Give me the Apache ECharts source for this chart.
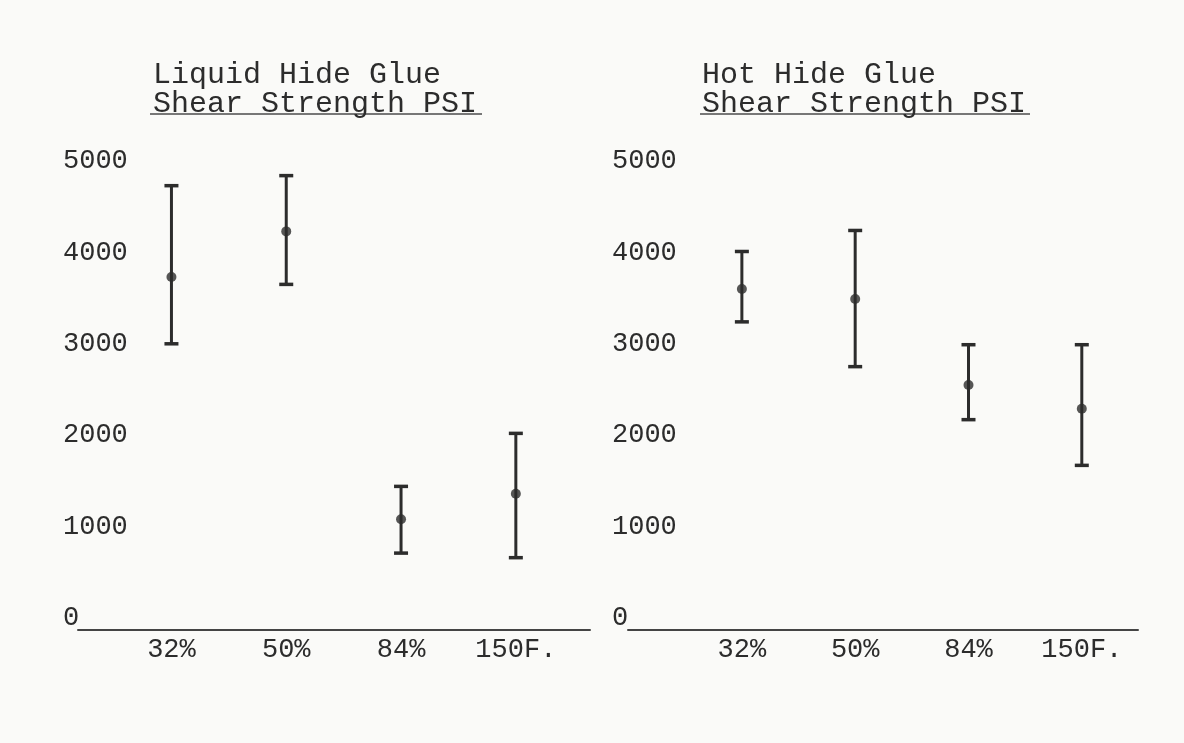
<!DOCTYPE html>
<html>
<head>
<meta charset="utf-8">
<script src="https://cdn.jsdelivr.net/npm/echarts@6/dist/echarts.min.js"></script>
<style>
  html, body { margin: 0; padding: 0; background: #fafaf8; }
  #chart { width: 1184px; height: 743px; }
</style>
</head>
<body>
<div id="chart"></div>
<script>
// ---- data ----
const categories = ['32%', '50%', '84%', '150F.'];
const yTickValues = [0, 1000, 2000, 3000, 4000, 5000];

const liquidTitle = 'Liquid Hide Glue';
const hotTitle = 'Hot Hide Glue';
const subTitle = 'Shear Strength PSI';

const liquidMean = [3730, 4230, 1080, 1360];
const liquidLow  = [3000, 3650, 710, 660];
const liquidHigh = [4730, 4840, 1440, 2020];

const hotMean = [3600, 3490, 2550, 2290];
const hotLow  = [3240, 2750, 2170, 1670];
const hotHigh = [4010, 4240, 2990, 2990];

// ---- styling ----
const FONT = "'Courier New', 'Liberation Mono', monospace";
const INK = '#2c2c2c';
const TITLE_SIZE = 30;
const TICK_SIZE = 27;

const chart = echarts.init(document.getElementById('chart'));

function errorBarRender(params, api) {
  const x = api.value(0);
  const lo = api.value(1);
  const hi = api.value(2);
  const pLo = api.coord([x, lo]);
  const pHi = api.coord([x, hi]);
  const hw = 7;
  return {
    type: 'group',
    children: [
      { type: 'line', shape: { x1: pLo[0], y1: pLo[1], x2: pHi[0], y2: pHi[1] }, style: { stroke: INK, lineWidth: 3 } },
      { type: 'line', shape: { x1: pHi[0] - hw, y1: pHi[1], x2: pHi[0] + hw, y2: pHi[1] }, style: { stroke: INK, lineWidth: 3.5 } },
      { type: 'line', shape: { x1: pLo[0] - hw, y1: pLo[1], x2: pLo[0] + hw, y2: pLo[1] }, style: { stroke: INK, lineWidth: 3.5 } }
    ]
  };
}

function makeX(gridIndex, min, max) {
  return {
    type: 'value', gridIndex, min, max, offset: 12,
    axisLine: { show: true, onZero: false, lineStyle: { color: '#444', width: 2 } },
    axisTick: { show: false },
    splitLine: { show: false },
    axisLabel: {
      customValues: [0, 1, 2, 3],
      formatter: v => categories[Math.round(v)] || '',
      fontFamily: FONT, fontSize: TICK_SIZE, color: INK, margin: 6
    }
  };
}
function makeY(gridIndex, margin) {
  return {
    type: 'value', gridIndex, min: 0, max: 5000, interval: 1000,
    axisLine: { show: false }, axisTick: { show: false }, splitLine: { show: false },
    axisLabel: {
      customValues: yTickValues,
      formatter: v => String(v),
      align: 'left', margin,
      fontFamily: FONT, fontSize: TICK_SIZE, color: INK
    }
  };
}

function pairs(low, high) { return low.map((l, i) => [i, l, high[i]]); }
function points(mean) { return mean.map((m, i) => [i, m]); }

const titleStyle = { fontFamily: FONT, fontSize: TITLE_SIZE, fontWeight: 'normal', color: INK, lineHeight: 29 };

chart.setOption({
  backgroundColor: '#fafaf8',
  animation: false,
  title: [
    { text: liquidTitle + '\n' + subTitle, left: 148, top: 56, textStyle: titleStyle },
    { text: hotTitle + '\n' + subTitle, left: 697, top: 56, textStyle: titleStyle }
  ],
  graphic: [
    { type: 'line', shape: { x1: 150, y1: 114, x2: 482, y2: 114 }, style: { stroke: '#777', lineWidth: 2 } },
    { type: 'line', shape: { x1: 700, y1: 114, x2: 1030, y2: 114 }, style: { stroke: '#777', lineWidth: 2 } }
  ],
  grid: [
    { left: 78, top: 161, width: 512, height: 457 },
    { left: 628, top: 161, width: 510, height: 457 }
  ],
  xAxis: [makeX(0, -0.814, 3.646), makeX(1, -1.005, 3.496)],
  yAxis: [makeY(0, 15), makeY(1, 16)],
  series: [
    { type: 'custom', xAxisIndex: 0, yAxisIndex: 0, renderItem: errorBarRender, data: pairs(liquidLow, liquidHigh), encode: { x: 0, y: [1, 2] } },
    { type: 'scatter', xAxisIndex: 0, yAxisIndex: 0, data: points(liquidMean), symbol: 'circle', symbolSize: 10, itemStyle: { color: INK } },
    { type: 'custom', xAxisIndex: 1, yAxisIndex: 1, renderItem: errorBarRender, data: pairs(hotLow, hotHigh), encode: { x: 0, y: [1, 2] } },
    { type: 'scatter', xAxisIndex: 1, yAxisIndex: 1, data: points(hotMean), symbol: 'circle', symbolSize: 10, itemStyle: { color: INK } }
  ]
});
</script>
</body>
</html>
